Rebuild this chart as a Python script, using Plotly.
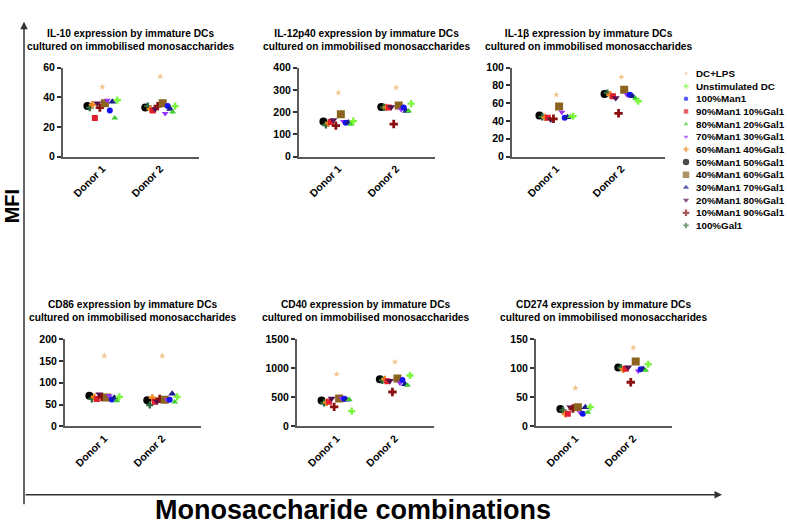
import plotly.graph_objects as go

# ---------------- data ----------------
donors = ["Donor 1", "Donor 2"]
series = ["DC+LPS", "Unstimulated DC", "100%Man1", "90%Man1 10%Gal1", "80%Man1 20%Gal1",
          "70%Man1 30%Gal1", "60%Man1 40%Gal1", "50%Man1 50%Gal1", "40%Man1 60%Gal1",
          "30%Man1 70%Gal1", "20%Man1 80%Gal1", "10%Man1 90%Gal1", "100%Gal1"]

panel_titles = [
    "IL-10 expression by immature DCs<br>cultured on immobilised monosaccharides",
    "IL-12p40 expression by immature DCs<br>cultured on immobilised monosaccharides",
    "IL-1β expression by immature DCs<br>cultured on immobilised monosaccharides",
    "CD86 expression by immature DCs<br>cultured on immobilised monosaccharides",
    "CD40 expression by immature DCs<br>cultured on immobilised monosaccharides",
    "CD274 expression by immature DCs<br>cultured on immobilised monosaccharides",
]
y_max = [60, 400, 100, 200, 1500, 150]
y_dtick = [20, 100, 20, 50, 500, 50]

# values in series order
il10_d1 = [47, 38, 31, 26, 26, 38, 35, 34, 36, 37, 36, 33, 33]
il10_d2 = [54, 34, 34, 31, 30, 29, 32, 33, 36, 32, 32, 34, 34]
il12_d1 = [287, 159, 152, 155, 145, 158, 149, 158, 190, 153, 164, 139, 142]
il12_d2 = [310, 238, 220, 220, 205, 212, 221, 223, 230, 205, 223, 146, 221]
il1b_d1 = [69.5, 45.3, 43.5, 43.5, 45, 49.7, 44, 46, 56.3, 44.2, 41.7, 42.4, 44.6]
il1b_d2 = [89.4, 62.2, 69.5, 67.7, 65.5, 69.5, 69.5, 70.3, 75, 67.7, 65.9, 48.6, 71.4]
cd86_d1 = [162, 67.7, 61.7, 63, 58.7, 70, 67, 70, 66, 65.5, 73.6, 67, 63]
cd86_d2 = [162, 67.7, 61, 56.5, 56, 61, 65.5, 60, 61, 75, 57, 63, 49]
cd40_d1 = [898, 262, 474, 424, 463, 485, 413, 446, 480, 457, 480, 335, 402]
cd40_d2 = [1110, 876, 798, 775, 708, 747, 809, 809, 825, 725, 786, 591, 792]
cd274_d1 = [65.8, 33, 21.8, 21.8, 24, 23.5, 21.2, 30, 33, 33, 33, 30.7, 27.4]
cd274_d2 = [135.5, 107, 98.2, 99.3, 96.5, 95.4, 98.2, 101.5, 111.5, 98.7, 102, 75.9, 101]

panels = [(il10_d1, il10_d2), (il12_d1, il12_d2), (il1b_d1, il1b_d2),
          (cd86_d1, cd86_d2), (cd40_d1, cd40_d2), (cd274_d1, cd274_d2)]

# ---------------- styles ----------------
colors = ["#F2C38B", "#7CF83A", "#1414F0", "#DD1F2F", "#3FCC2E", "#9B30FF", "#F7861C",
          "#000000", "#8B6420", "#1B1B8F", "#55104F", "#8B1010", "#2F6B3E"]
symbols = ["star", "cross", "circle", "square", "triangle-up", "triangle-down", "cross",
           "circle", "square", "triangle-up", "triangle-down", "cross", "cross"]
sizes = [5, 6, 6, 6, 6, 6, 6, 8, 8, 7, 7, 7, 6]
plot_order = [7, 12, 6, 3, 10, 11, 0, 8, 5, 2, 9, 4, 1]

W, H = 787, 531
FONT = "Liberation Sans, Arial, sans-serif"


def fx(X):
    return X / W


def fy(Y):
    return 1 - Y / H


# panel boxes in window pixels (left, right, top, bottom)
boxes = [(63, 199, 63, 154), (299, 435, 63, 154), (512, 665, 63, 154),
         (65, 201, 341, 430), (297, 434, 341, 430), (536, 672, 341, 430)]

fig = go.Figure()
layout = dict(
    width=W, height=H, margin=dict(l=0, r=0, t=0, b=0),
    paper_bgcolor="white", plot_bgcolor="white", showlegend=False,
    scattermode="group", scattergap=0.44,
    font=dict(family=FONT, color="black"),
)
annotations = []

for i, (d1, d2) in enumerate(panels):
    k = i + 1
    xs = "x" if k == 1 else f"x{k}"
    ys = "y" if k == 1 else f"y{k}"
    for s in plot_order:
        fig.add_trace(go.Scatter(
            x=donors, y=[d1[s], d2[s]], mode="markers", name=series[s],
            xaxis=xs, yaxis=ys,
            marker=dict(color=colors[s], symbol=symbols[s], size=sizes[s], line=dict(width=0)),
        ))
    l, r, t, b = boxes[i]
    layout[f"xaxis{'' if k == 1 else k}"] = dict(
        domain=[fx(l), fx(r)], anchor=ys, type="category", range=[-0.68, 1.67],
        showline=True, linecolor="#5a5a5a", linewidth=2, ticks="", showgrid=False,
        zeroline=False, tickangle=-45,
        tickfont=dict(family=FONT, size=10.5, weight="bold", color="black"),
    )
    layout[f"yaxis{'' if k == 1 else k}"] = dict(
        domain=[fy(b), fy(t)], anchor=xs, range=[0, y_max[i]], dtick=y_dtick[i],
        showline=True, linecolor="#5a5a5a", linewidth=2, ticks="outside", ticklen=4,
        tickwidth=1.5, tickcolor="#333", showgrid=False, zeroline=False,
        tickfont=dict(family=FONT, size=10.5, weight="bold", color="black"),
    )
    annotations.append(dict(
        text=panel_titles[i], xref="paper", yref="paper", x=fx((l + r) / 2), y=fy(t),
        xanchor="center", yanchor="bottom", yshift=14, showarrow=False,
        font=dict(family=FONT, size=10.2, weight="bold", color="black"),
    ))

# custom legend: markers on a hidden pixel-scaled axis, labels as annotations
LEG_L = 676
fig.add_trace(go.Scatter(
    x=[10] * len(series), y=list(range(len(series))), mode="markers",
    xaxis="x7", yaxis="y7", hoverinfo="skip",
    marker=dict(color=colors, symbol=symbols, size=[s - 1.5 for s in sizes], line=dict(width=0)),
    cliponaxis=False,
))
layout["xaxis7"] = dict(domain=[fx(LEG_L), 1.0], anchor="y7", range=[0, 787 - LEG_L], visible=False)
layout["yaxis7"] = dict(domain=[fy(231), fy(62.5)], anchor="x7",
                        range=[len(series) - 0.5, -0.5], visible=False)
for j, name in enumerate(series):
    annotations.append(dict(
        text=name, xref="x7", yref="y7", x=18, y=j, xanchor="left", yanchor="middle",
        showarrow=False, font=dict(family=FONT, size=9.8, weight="bold", color="black"),
    ))

# big axis arrows and labels
annotations.append(dict(
    x=fx(24), y=fy(16), xref="paper", yref="paper", text="", showarrow=True,
    ax=0, ay=484, arrowhead=2, arrowsize=1, arrowwidth=1.5, arrowcolor="#333",
))
annotations.append(dict(
    x=fx(722), y=fy(500), xref="paper", yref="paper", text="", showarrow=True,
    ax=-698, ay=0, arrowhead=2, arrowsize=1, arrowwidth=1.5, arrowcolor="#333",
))
annotations.append(dict(
    text="MFI", x=fx(12), y=fy(205), xref="paper", yref="paper", showarrow=False,
    xanchor="center", yanchor="middle", textangle=-90,
    font=dict(family=FONT, size=20, weight="bold", color="black"),
))
annotations.append(dict(
    text="Monosaccharide combinations", x=fx(353), y=fy(516), xref="paper", yref="paper",
    xanchor="center", yanchor="middle", showarrow=False,
    font=dict(family=FONT, size=27, weight="bold", color="black"),
))
layout["annotations"] = annotations

fig.update_layout(**layout)
fig.write_html("out.html", config={"displayModeBar": False},
               post_script="document.body.style.margin='0';")
